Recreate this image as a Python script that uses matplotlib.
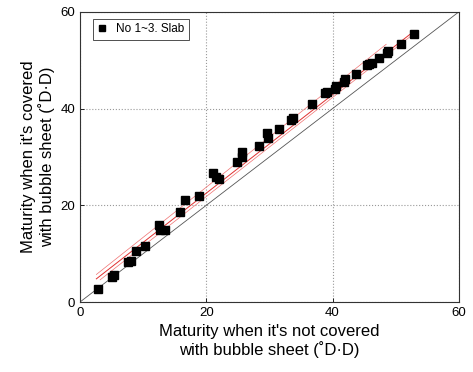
import matplotlib
matplotlib.use("Agg")
import matplotlib.pyplot as plt

plt.rcParams['font.family'] = ['Liberation Sans', 'DejaVu Sans']

# measured maturity (not covered vs covered with bubble sheet)
x_not_covered = [2.8, 5.4, 5.0, 8.1, 7.6, 8.9, 10.3, 12.5, 12.7, 13.5, 15.9,
                 16.6, 18.9, 21.1, 21.6, 22.0, 24.9, 25.6, 25.6, 28.4, 29.6,
                 29.8, 31.5, 33.7, 33.4, 36.7, 38.8, 39.2, 40.4, 40.5, 42.0,
                 41.8, 43.7, 45.4, 45.8, 46.2, 47.4, 48.6, 48.8, 50.8, 52.9]
y_covered = [2.6, 5.6, 5.2, 8.5, 8.2, 10.6, 11.6, 15.9, 14.9, 14.8, 18.6,
             21.2, 21.9, 26.6, 25.8, 25.4, 29.0, 31.0, 30.1, 32.3, 34.9,
             33.9, 35.8, 38.1, 37.7, 40.9, 43.2, 43.4, 44.0, 44.7, 46.1,
             45.6, 47.2, 49.0, 49.2, 49.4, 50.4, 51.5, 51.9, 53.4, 55.4]

# regression line and band (endpoints)
fit_x = [2.6, 52.7]
fit_y = [4.8, 55.8]
upper_x = [2.6, 48.5]
upper_y = [5.7, 53.3]
lower_x = [3.2, 52.7]
lower_y = [4.6, 55.3]

fig = plt.figure(figsize=(4.73, 3.72), dpi=100)
ax = fig.add_axes([0.169, 0.188, 0.801, 0.78])

ax.plot([0, 60], [0, 60], color='#555555', linewidth=0.6)
ax.plot(fit_x, fit_y, color='#e03030', linewidth=0.7)
ax.plot(upper_x, upper_y, color='#f07070', linewidth=0.5)
ax.plot(lower_x, lower_y, color='#f07070', linewidth=0.5)
ax.plot(x_not_covered, y_covered, 's', color='black', markersize=5.3,
        linestyle='none', label='No 1~3. Slab')

ax.set_xlim(0, 60)
ax.set_ylim(0, 60)
ax.set_xticks([0, 20, 40, 60])
ax.set_yticks([0, 20, 40, 60])
ax.tick_params(direction='in', length=3, labelsize=9.5, width=0.6)
ax.grid(True, color='#999999', linestyle=':', linewidth=0.8)
for s in ax.spines.values():
    s.set_linewidth(0.8)
    s.set_color('#333333')

ax.set_xlabel("Maturity when it's not covered\nwith bubble sheet (\u02daD\u00b7D)",
              fontsize=12, linespacing=1.1)
ax.set_ylabel("Maturity when it's covered\nwith bubble sheet (\u02daD\u00b7D)",
              fontsize=12, linespacing=1.1)

leg = ax.legend(loc='upper left', fontsize=8.5, handlelength=0.8,
                handletextpad=0.8, borderpad=0.35, fancybox=False,
                framealpha=1, edgecolor='#333333', markerscale=0.7,
                bbox_to_anchor=(0.02, 0.995))
leg.get_frame().set_linewidth(0.6)

fig.savefig('out.png', dpi=100)
plt.close(fig)
